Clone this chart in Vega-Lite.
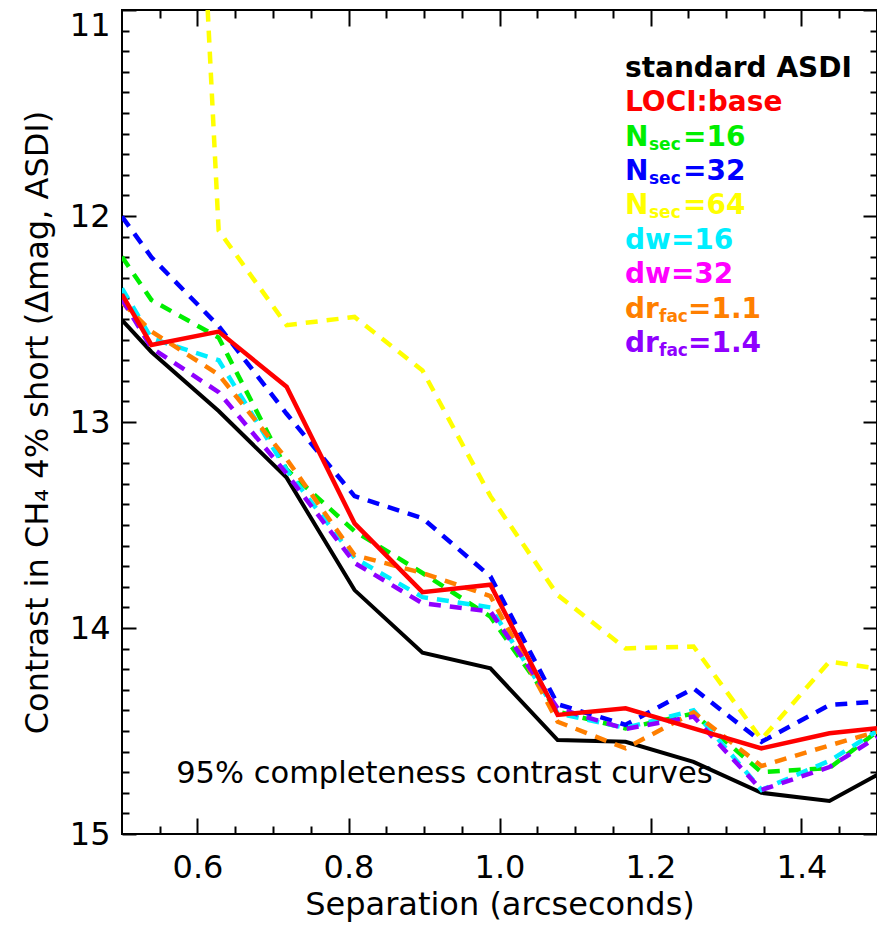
{
  "$schema": "https://vega.github.io/schema/vega-lite/v6.json",
  "width": 755,
  "height": 824,
  "autosize": "none",
  "padding": {"left": 122, "top": 10, "right": 0, "bottom": 95},
  "background": "white",
  "config": {
    "font": "DejaVu Sans",
    "view": {"stroke": "black", "strokeWidth": 2},
    "axis": {"grid": false, "domain": false, "tickColor": "black", "tickWidth": 2, "labelColor": "black", "titleColor": "black", "labelFont": "DejaVu Sans", "titleFont": "DejaVu Sans", "titleFontWeight": "normal"}
  },
  "datasets": {
    "curves": [
      {"series": "ASDI", "sep": 0.5, "contrast": 12.505},
      {"series": "ASDI", "sep": 0.539, "contrast": 12.66},
      {"series": "ASDI", "sep": 0.628, "contrast": 12.947},
      {"series": "ASDI", "sep": 0.718, "contrast": 13.27},
      {"series": "ASDI", "sep": 0.808, "contrast": 13.816},
      {"series": "ASDI", "sep": 0.898, "contrast": 14.12},
      {"series": "ASDI", "sep": 0.988, "contrast": 14.196},
      {"series": "ASDI", "sep": 1.077, "contrast": 14.544},
      {"series": "ASDI", "sep": 1.167, "contrast": 14.552},
      {"series": "ASDI", "sep": 1.257, "contrast": 14.65},
      {"series": "ASDI", "sep": 1.347, "contrast": 14.8},
      {"series": "ASDI", "sep": 1.437, "contrast": 14.84},
      {"series": "ASDI", "sep": 1.5, "contrast": 14.714},

      {"series": "Nsec16", "sep": 0.5, "contrast": 12.198},
      {"series": "Nsec16", "sep": 0.539, "contrast": 12.408},
      {"series": "Nsec16", "sep": 0.628, "contrast": 12.59},
      {"series": "Nsec16", "sep": 0.718, "contrast": 13.23},
      {"series": "Nsec16", "sep": 0.808, "contrast": 13.53},
      {"series": "Nsec16", "sep": 0.898, "contrast": 13.733},
      {"series": "Nsec16", "sep": 0.988, "contrast": 13.945},
      {"series": "Nsec16", "sep": 1.077, "contrast": 14.406},
      {"series": "Nsec16", "sep": 1.167, "contrast": 14.487},
      {"series": "Nsec16", "sep": 1.257, "contrast": 14.415},
      {"series": "Nsec16", "sep": 1.347, "contrast": 14.7},
      {"series": "Nsec16", "sep": 1.437, "contrast": 14.68},
      {"series": "Nsec16", "sep": 1.5, "contrast": 14.503},

      {"series": "Nsec32", "sep": 0.5, "contrast": 12.003},
      {"series": "Nsec32", "sep": 0.539, "contrast": 12.2},
      {"series": "Nsec32", "sep": 0.628, "contrast": 12.534},
      {"series": "Nsec32", "sep": 0.718, "contrast": 12.96},
      {"series": "Nsec32", "sep": 0.808, "contrast": 13.36},
      {"series": "Nsec32", "sep": 0.898, "contrast": 13.467},
      {"series": "Nsec32", "sep": 0.988, "contrast": 13.75},
      {"series": "Nsec32", "sep": 1.077, "contrast": 14.37},
      {"series": "Nsec32", "sep": 1.167, "contrast": 14.47},
      {"series": "Nsec32", "sep": 1.257, "contrast": 14.293},
      {"series": "Nsec32", "sep": 1.347, "contrast": 14.552},
      {"series": "Nsec32", "sep": 1.437, "contrast": 14.374},
      {"series": "Nsec32", "sep": 1.5, "contrast": 14.357},

      {"series": "Nsec64", "sep": 0.539, "contrast": 5.5},
      {"series": "Nsec64", "sep": 0.628, "contrast": 12.07},
      {"series": "Nsec64", "sep": 0.718, "contrast": 12.53},
      {"series": "Nsec64", "sep": 0.808, "contrast": 12.49},
      {"series": "Nsec64", "sep": 0.898, "contrast": 12.75},
      {"series": "Nsec64", "sep": 0.988, "contrast": 13.36},
      {"series": "Nsec64", "sep": 1.077, "contrast": 13.84},
      {"series": "Nsec64", "sep": 1.167, "contrast": 14.099},
      {"series": "Nsec64", "sep": 1.257, "contrast": 14.09},
      {"series": "Nsec64", "sep": 1.347, "contrast": 14.54},
      {"series": "Nsec64", "sep": 1.437, "contrast": 14.163},
      {"series": "Nsec64", "sep": 1.5, "contrast": 14.196},

      {"series": "dw16", "sep": 0.5, "contrast": 12.351},
      {"series": "dw16", "sep": 0.539, "contrast": 12.594},
      {"series": "dw16", "sep": 0.628, "contrast": 12.7},
      {"series": "dw16", "sep": 0.718, "contrast": 13.233},
      {"series": "dw16", "sep": 0.808, "contrast": 13.66},
      {"series": "dw16", "sep": 0.898, "contrast": 13.85},
      {"series": "dw16", "sep": 0.988, "contrast": 13.9},
      {"series": "dw16", "sep": 1.077, "contrast": 14.414},
      {"series": "dw16", "sep": 1.167, "contrast": 14.485},
      {"series": "dw16", "sep": 1.257, "contrast": 14.4},
      {"series": "dw16", "sep": 1.347, "contrast": 14.786},
      {"series": "dw16", "sep": 1.437, "contrast": 14.645},
      {"series": "dw16", "sep": 1.5, "contrast": 14.5},

      {"series": "dr11", "sep": 0.5, "contrast": 12.42},
      {"series": "dr11", "sep": 0.539, "contrast": 12.56},
      {"series": "dr11", "sep": 0.628, "contrast": 12.77},
      {"series": "dr11", "sep": 0.718, "contrast": 13.18},
      {"series": "dr11", "sep": 0.808, "contrast": 13.646},
      {"series": "dr11", "sep": 0.898, "contrast": 13.733},
      {"series": "dr11", "sep": 0.988, "contrast": 13.845},
      {"series": "dr11", "sep": 1.077, "contrast": 14.455},
      {"series": "dr11", "sep": 1.167, "contrast": 14.584},
      {"series": "dr11", "sep": 1.257, "contrast": 14.41},
      {"series": "dr11", "sep": 1.347, "contrast": 14.67},
      {"series": "dr11", "sep": 1.437, "contrast": 14.57},
      {"series": "dr11", "sep": 1.5, "contrast": 14.503},

      {"series": "dr14", "sep": 0.5, "contrast": 12.405},
      {"series": "dr14", "sep": 0.539, "contrast": 12.64},
      {"series": "dr14", "sep": 0.628, "contrast": 12.855},
      {"series": "dr14", "sep": 0.718, "contrast": 13.25},
      {"series": "dr14", "sep": 0.808, "contrast": 13.684},
      {"series": "dr14", "sep": 0.898, "contrast": 13.88},
      {"series": "dr14", "sep": 0.988, "contrast": 13.92},
      {"series": "dr14", "sep": 1.077, "contrast": 14.39},
      {"series": "dr14", "sep": 1.167, "contrast": 14.49},
      {"series": "dr14", "sep": 1.257, "contrast": 14.43},
      {"series": "dr14", "sep": 1.347, "contrast": 14.786},
      {"series": "dr14", "sep": 1.437, "contrast": 14.675},
      {"series": "dr14", "sep": 1.5, "contrast": 14.53},

      {"series": "LOCI", "sep": 0.5, "contrast": 12.38},
      {"series": "LOCI", "sep": 0.539, "contrast": 12.626},
      {"series": "LOCI", "sep": 0.628, "contrast": 12.561},
      {"series": "LOCI", "sep": 0.718, "contrast": 12.829},
      {"series": "LOCI", "sep": 0.808, "contrast": 13.492},
      {"series": "LOCI", "sep": 0.898, "contrast": 13.826},
      {"series": "LOCI", "sep": 0.988, "contrast": 13.79},
      {"series": "LOCI", "sep": 1.077, "contrast": 14.422},
      {"series": "LOCI", "sep": 1.167, "contrast": 14.39},
      {"series": "LOCI", "sep": 1.257, "contrast": 14.487},
      {"series": "LOCI", "sep": 1.347, "contrast": 14.584},
      {"series": "LOCI", "sep": 1.437, "contrast": 14.511},
      {"series": "LOCI", "sep": 1.5, "contrast": 14.487}
    ],
    "keyRows": [
      {"series": "ASDI", "head": "standard ASDI"},
      {"series": "LOCI", "head": "LOCI:base"},
      {"series": "Nsec16", "head": "N", "sub": "sec", "tail": "=16"},
      {"series": "Nsec32", "head": "N", "sub": "sec", "tail": "=32"},
      {"series": "Nsec64", "head": "N", "sub": "sec", "tail": "=64"},
      {"series": "dw16", "head": "dw=16"},
      {"series": "dw32", "head": "dw=32"},
      {"series": "dr11", "head": "dr", "sub": "fac", "tail": "=1.1"},
      {"series": "dr14", "head": "dr", "sub": "fac", "tail": "=1.4"}
    ]
  },
  "resolve": {"scale": {"y": "independent"}, "axis": {"x": "independent", "y": "independent"}},
  "layer": [
    {
      "data": {"name": "curves"},
      "resolve": {"axis": {"x": "independent", "y": "independent"}},
      "layer": [
        {
          "transform": [{"filter": "datum.series === 'ASDI'"}],
          "mark": {"type": "line", "clip": true, "strokeWidth": 4, "strokeJoin": "miter"},
          "encoding": {
            "x": {"field": "sep", "type": "quantitative", "scale": {"domain": [0.5, 1.5], "nice": false, "zero": false},
              "axis": {"orient": "bottom", "values": [0.6, 0.8, 1.0, 1.2, 1.4], "format": ".1f", "tickSize": -16, "labelPadding": 34, "labelFontSize": 32, "labelFlush": false,
                "title": "Separation (arcseconds)", "titleFontSize": 32, "titlePadding": 6}},
            "y": {"field": "contrast", "type": "quantitative", "scale": {"domain": [11, 15], "reverse": true, "nice": false, "zero": false},
              "axis": {"orient": "left", "values": [11, 12, 13, 14, 15], "format": "d", "tickSize": -14, "labelPadding": 26, "labelFontSize": 32, "labelFlush": false,
                "labelBaseline": {"condition": {"test": "datum.value === 11", "value": "top"}, "value": "middle"},
                "title": "Contrast in CH₄ 4% short (Δmag, ASDI)", "titleFontSize": 32, "titlePadding": 15}},
            "color": {"field": "series", "type": "nominal", "legend": null,
              "scale": {"domain": ["ASDI", "LOCI", "Nsec16", "Nsec32", "Nsec64", "dw16", "dw32", "dr11", "dr14"],
                "range": ["#000000", "#ff0000", "#00ee00", "#0000ff", "#ffff00", "#00eeff", "#ff00ff", "#ff7f00", "#8f00ff"]}}
          }
        },
        {
          "transform": [{"filter": "datum.series !== 'ASDI' && datum.series !== 'LOCI'"}],
          "mark": {"type": "line", "clip": true, "strokeWidth": 4.5, "strokeDash": [12, 9]},
          "encoding": {
            "x": {"field": "sep", "type": "quantitative", "scale": {"domain": [0.5, 1.5], "nice": false, "zero": false},
              "axis": {"orient": "bottom", "values": [0.55, 0.65, 0.7, 0.75, 0.85, 0.9, 0.95, 1.05, 1.1, 1.15, 1.25, 1.3, 1.35, 1.45], "tickSize": -8, "labels": false, "title": null}},
            "y": {"field": "contrast", "type": "quantitative", "scale": {"domain": [11, 15], "reverse": true, "nice": false, "zero": false},
              "axis": {"orient": "left", "values": [11.1, 11.2, 11.3, 11.4, 11.5, 11.6, 11.7, 11.8, 11.9, 12.1, 12.2, 12.3, 12.4, 12.5, 12.6, 12.7, 12.8, 12.9, 13.1, 13.2, 13.3, 13.4, 13.5, 13.6, 13.7, 13.8, 13.9, 14.1, 14.2, 14.3, 14.4, 14.5, 14.6, 14.7, 14.8, 14.9], "tickSize": -7, "labels": false, "title": null}},
            "color": {"field": "series", "type": "nominal", "legend": null}
          }
        },
        {
          "transform": [{"filter": "datum.series === 'LOCI'"}],
          "mark": {"type": "line", "clip": true, "strokeWidth": 4.5, "strokeJoin": "miter"},
          "encoding": {
            "x": {"field": "sep", "type": "quantitative", "scale": {"domain": [0.5, 1.5], "nice": false, "zero": false},
              "axis": {"orient": "top", "values": [0.6, 0.8, 1.0, 1.2, 1.4], "tickSize": -16, "labels": false, "title": null}},
            "y": {"field": "contrast", "type": "quantitative", "scale": {"domain": [11, 15], "reverse": true, "nice": false, "zero": false},
              "axis": {"orient": "right", "values": [11, 12, 13, 14, 15], "tickSize": -14, "labels": false, "title": null}},
            "color": {"field": "series", "type": "nominal", "legend": null}
          }
        },
        {
          "data": {"values": [{"note": "95% completeness contrast curves"}]},
          "mark": {"type": "text", "align": "center", "baseline": "alphabetic", "fontSize": 30.5, "font": "DejaVu Sans", "color": "black"},
          "encoding": {
            "x": {"datum": 0.927, "type": "quantitative", "scale": {"domain": [0.5, 1.5], "nice": false, "zero": false},
              "axis": {"orient": "top", "values": [0.55, 0.65, 0.7, 0.75, 0.85, 0.9, 0.95, 1.05, 1.1, 1.15, 1.25, 1.3, 1.35, 1.45], "tickSize": -8, "labels": false, "title": null}},
            "y": {"datum": 14.752, "type": "quantitative", "scale": {"domain": [11, 15], "reverse": true, "nice": false, "zero": false},
              "axis": {"orient": "right", "values": [11.1, 11.2, 11.3, 11.4, 11.5, 11.6, 11.7, 11.8, 11.9, 12.1, 12.2, 12.3, 12.4, 12.5, 12.6, 12.7, 12.8, 12.9, 13.1, 13.2, 13.3, 13.4, 13.5, 13.6, 13.7, 13.8, 13.9, 14.1, 14.2, 14.3, 14.4, 14.5, 14.6, 14.7, 14.8, 14.9], "tickSize": -7, "labels": false, "title": null}},
            "text": {"field": "note"}
          }
        }
      ]
    },
    {
      "data": {"name": "keyRows"},
      "transform": [{"window": [{"op": "row_number", "as": "rank"}]}],
      "layer": [
        {
          "mark": {"type": "text", "align": "left", "baseline": "alphabetic", "fontSize": 28, "fontWeight": "bold", "font": "DejaVu Sans"},
          "encoding": {
            "x": {"datum": 1.1662, "type": "quantitative", "axis": null},
            "y": {"field": "rank", "type": "quantitative", "axis": null,
              "scale": {"domain": [-0.939, 23.01], "reverse": true, "nice": false, "zero": false}},
            "text": {"field": "head"},
            "color": {"field": "series", "type": "nominal", "legend": null}
          }
        },
        {
          "transform": [{"filter": "datum.head === 'N'"}],
          "layer": [
            {
              "mark": {"type": "text", "align": "left", "baseline": "alphabetic", "fontSize": 17, "fontWeight": "bold", "font": "DejaVu Sans", "dx": 24, "dy": 4},
              "encoding": {
                "x": {"datum": 1.1662, "type": "quantitative", "axis": null},
                "y": {"field": "rank", "type": "quantitative", "axis": null},
                "text": {"field": "sub"},
                "color": {"field": "series", "type": "nominal", "legend": null}
              }
            },
            {
              "mark": {"type": "text", "align": "left", "baseline": "alphabetic", "fontSize": 28, "fontWeight": "bold", "font": "DejaVu Sans", "dx": 58},
              "encoding": {
                "x": {"datum": 1.1662, "type": "quantitative", "axis": null},
                "y": {"field": "rank", "type": "quantitative", "axis": null},
                "text": {"field": "tail"},
                "color": {"field": "series", "type": "nominal", "legend": null}
              }
            }
          ]
        },
        {
          "transform": [{"filter": "datum.head === 'dr'"}],
          "layer": [
            {
              "mark": {"type": "text", "align": "left", "baseline": "alphabetic", "fontSize": 17, "fontWeight": "bold", "font": "DejaVu Sans", "dx": 34, "dy": 4},
              "encoding": {
                "x": {"datum": 1.1662, "type": "quantitative", "axis": null},
                "y": {"field": "rank", "type": "quantitative", "axis": null},
                "text": {"field": "sub"},
                "color": {"field": "series", "type": "nominal", "legend": null}
              }
            },
            {
              "mark": {"type": "text", "align": "left", "baseline": "alphabetic", "fontSize": 28, "fontWeight": "bold", "font": "DejaVu Sans", "dx": 63},
              "encoding": {
                "x": {"datum": 1.1662, "type": "quantitative", "axis": null},
                "y": {"field": "rank", "type": "quantitative", "axis": null},
                "text": {"field": "tail"},
                "color": {"field": "series", "type": "nominal", "legend": null}
              }
            }
          ]
        }
      ]
    }
  ]
}
